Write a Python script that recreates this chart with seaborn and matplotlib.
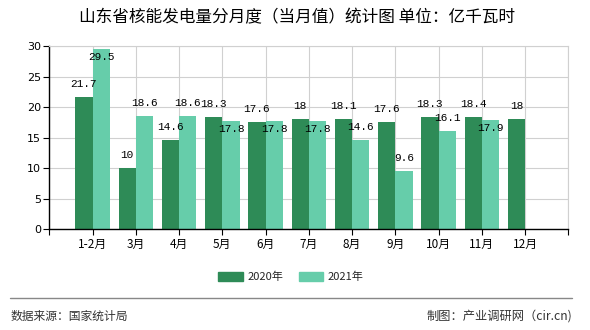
import numpy as np
import pandas as pd
import matplotlib
matplotlib.use("Agg")
import matplotlib.pyplot as plt
import seaborn as sns
from matplotlib.lines import Line2D

months = ["1-2月", "3月", "4月", "5月", "6月", "7月", "8月", "9月", "10月", "11月", "12月"]
years = ["2020年", "2021年"]
v2020 = [21.7, 10, 14.6, 18.3, 17.6, 18, 18.1, 17.6, 18.3, 18.4, 18]
v2021 = [29.5, 18.6, 18.6, 17.8, 17.8, 17.8, 14.6, 9.6, 16.1, 17.9, np.nan]
colors = ["#2E8B57", "#66CDAA"]
yticks = [0, 5, 10, 15, 20, 25, 30]

title = "山东省核能发电量分月度（当月值）统计图 单位：亿千瓦时"
source = "数据来源：国家统计局"
maker = "制图：产业调研网（cir.cn)"

df = pd.DataFrame({
    "month": months * 2,
    "year": [years[0]] * len(months) + [years[1]] * len(months),
    "value": v2020 + v2021,
})

sns.set_theme(style="white")
plt.rcParams["font.family"] = ["Noto Sans CJK SC", "DejaVu Sans"]

fig = plt.figure(figsize=(5.9, 3.3), dpi=100)
ax = fig.add_axes([49.3 / 590, 1 - 229.3 / 330, (568.3 - 49.3) / 590, (229.3 - 46) / 330])

sns.barplot(data=df, x="month", y="value", hue="year", order=months, hue_order=years,
            palette=colors, width=0.8, saturation=1, ax=ax, legend=False, zorder=2,
            linewidth=0, edgecolor="none")

ax.set_xlim(-1, len(months))
ax.set_ylim(0, 30)
ax.set_yticks(yticks)
ax.set_yticklabels([str(t) for t in yticks], fontsize=8, family=["DejaVu Sans"])
ax.set_xticks(range(-1, len(months) + 1))
ax.set_xticklabels([""] + months + [""], fontsize=8.5)
ax.set_xlabel("")
ax.set_ylabel("")
ax.grid(True, color="#d0d0d0", linewidth=0.8, zorder=0)
ax.set_axisbelow(True)
for s in ["top", "right"]:
    ax.spines[s].set_color("#d0d0d0")
    ax.spines[s].set_linewidth(0.8)
for s in ["left", "bottom"]:
    ax.spines[s].set_color("black")
    ax.spines[s].set_linewidth(1.0)
ax.tick_params(axis="both", which="both", length=4, width=0.8, color="black",
               bottom=True, left=True, pad=2, labelcolor="black")

px = 0.72
lab_font = dict(fontsize=8, family=["Liberation Mono", "DejaVu Sans Mono"], color="black")
for i in range(len(months)):
    a = v2020[i]
    b = v2021[i]
    ax.annotate(f"{a:g}", (i - 0.2, a), xytext=(0, 13 * px), textcoords="offset points",
                ha="center", va="center", **lab_font)
    if not np.isnan(b):
        below = abs(b - a) < 2 or b > 27
        off = -8 * px if below else 13 * px
        ax.annotate(f"{b:g}", (i + 0.2, b), xytext=(0, off), textcoords="offset points",
                    ha="center", va="center", **lab_font)

fig.text(297 / 590, 1 - 18 / 330, title, ha="center", va="center", fontsize=12, color="black")

handles = [plt.Rectangle((0, 0), 1, 1, color=c) for c in colors]
fig.legend(handles, years, loc="center", bbox_to_anchor=(291 / 590, 1 - 277 / 330), ncol=2,
           frameon=False, fontsize=8, handlelength=2.2, handleheight=0.9, handletextpad=0.4,
           columnspacing=1.4)

fig.add_artist(Line2D([10 / 590, 572 / 590], [1 - 297.5 / 330] * 2, transform=fig.transFigure,
                      color="#888888", linewidth=1))
fig.text(11 / 590, 1 - 316 / 330, source, ha="left", va="center", fontsize=8.5, color="#333333")
fig.text(572 / 590, 1 - 316 / 330, maker, ha="right", va="center", fontsize=8.8, color="#333333")

fig.savefig("out.png", dpi=100)
